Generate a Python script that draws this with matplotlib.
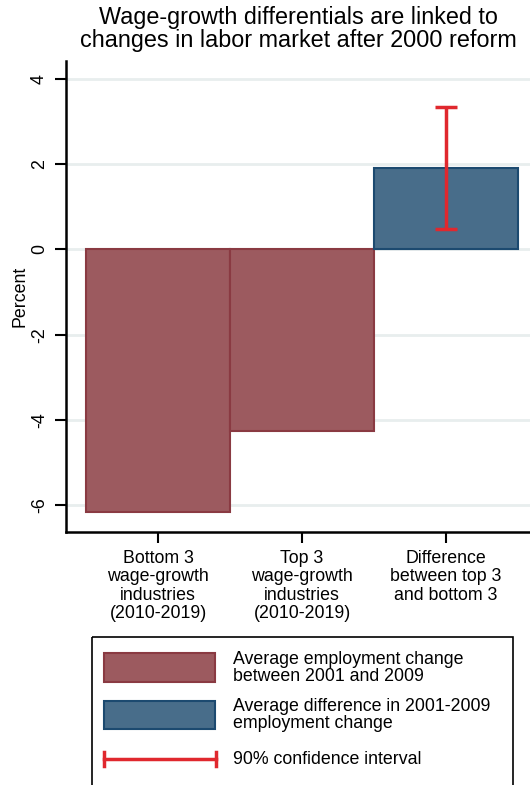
import matplotlib
matplotlib.use("Agg")
import matplotlib.pyplot as plt
from matplotlib.patches import Rectangle
from matplotlib.lines import Line2D

plt.rcParams['font.family'] = ['Liberation Sans', 'DejaVu Sans']

# ---- data ----
categories = ["Bottom 3\nwage-growth\nindustries\n(2010-2019)",
              "Top 3\nwage-growth\nindustries\n(2010-2019)",
              "Difference\nbetween top 3\nand bottom 3"]
values = [-6.17, -4.25, 1.91]
ci_low = 0.48
ci_high = 3.35
yticks = [4, 2, 0, -2, -4, -6]
legend_labels = ["Average employment change\nbetween 2001 and 2009",
                 "Average difference in 2001-2009\nemployment change",
                 "90% confidence interval"]
title = "Wage-growth differentials are linked to\nchanges in labor market after 2000 reform"

red_fill, red_edge = "#9c5a5f", "#8a3a42"
blue_fill, blue_edge = "#486d8a", "#1c4a70"
ci_color = "#e0282e"

FS = 12.8
W, H = 530, 785
fig = plt.figure(figsize=(W/100, H/100), dpi=100)

def fx(px): return px / W
def fy(py): return 1 - py / H

# main axes: left 66, right 530, top 61, bottom 532
ax = fig.add_axes([fx(66), fy(532), fx(530) - fx(66), fy(61) - fy(532)])
colors = [red_fill, red_fill, blue_fill]
edges = [red_edge, red_edge, blue_edge]
x = list(range(len(categories)))
ax.bar(x, values, width=1.0, color=colors, edgecolor=edges, linewidth=1.5, zorder=3)
ax.errorbar([x[2]], [(ci_low + ci_high) / 2], yerr=[[(ci_high - ci_low) / 2], [(ci_high - ci_low) / 2]],
            fmt='none', ecolor=ci_color, elinewidth=2.5, capsize=8, capthick=2.5, zorder=4)
ax.set_xlim(-0.639, 2.583)
ax.set_ylim(-6.63, 4.42)
ax.set_yticks(yticks)
ax.set_yticklabels([str(t) for t in yticks], rotation=90, va='center', fontsize=FS)
ax.set_xticks(x)
ax.set_xticklabels(categories, fontsize=FS, linespacing=1.1)
ax.tick_params(axis='both', length=8, width=1.5, pad=5)
ax.grid(axis='y', color='#e8eeee', linewidth=2, zorder=0)
ax.set_axisbelow(True)
for s in ['top', 'right']:
    ax.spines[s].set_visible(False)
for s in ['left', 'bottom']:
    ax.spines[s].set_linewidth(1.8)
ax.set_ylabel("Percent", fontsize=FS, labelpad=2)

fig.text(fx(298), fy(6), title, ha='center', va='top', fontsize=16.8, linespacing=1.0)

# legend drawn manually
lax = fig.add_axes([0, 0, 1, 1], facecolor='none')
lax.set_xlim(0, W)
lax.set_ylim(H, 0)
lax.axis('off')
lax.add_patch(Rectangle((92, 637), 421, 200, fill=False, edgecolor='black', linewidth=1.2, clip_on=False))
lax.add_patch(Rectangle((104, 653), 111, 29, facecolor=red_fill, edgecolor=red_edge, linewidth=1.5))
lax.add_patch(Rectangle((104, 701), 111, 28, facecolor=blue_fill, edgecolor=blue_edge, linewidth=1.5))
lax.add_line(Line2D([104, 216], [759, 759], color=ci_color, linewidth=2.5))
lax.add_line(Line2D([104, 104], [752, 766], color=ci_color, linewidth=2.5))
lax.add_line(Line2D([216, 216], [752, 766], color=ci_color, linewidth=2.5))
lax.text(233, 668, legend_labels[0], va='center', ha='left', fontsize=FS, linespacing=1.05)
lax.text(233, 715, legend_labels[1], va='center', ha='left', fontsize=FS, linespacing=1.05)
lax.text(233, 759, legend_labels[2], va='center', ha='left', fontsize=FS)

fig.savefig("out.png", dpi=100)
